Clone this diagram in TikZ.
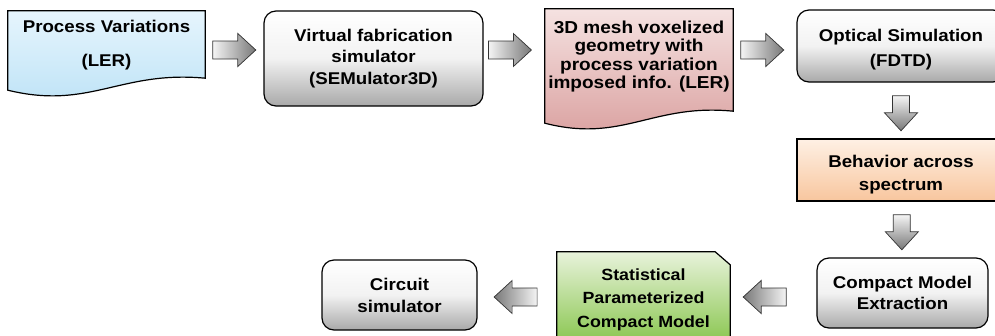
\documentclass[tikz,border=0pt]{standalone}
\usepackage{fontspec}
\setmainfont{Liberation Sans}[FakeStretch=1.1]
\usetikzlibrary{calc}
\pgfdeclarelayer{background}
\pgfsetlayers{background,main}

\definecolor{pvtop}{HTML}{E6F5FD}
\definecolor{pvbot}{HTML}{BCE2F6}
\definecolor{meshtop}{HTML}{F5E2E1}
\definecolor{meshbot}{HTML}{D99E9D}
\definecolor{behtop}{HTML}{FEF0E4}
\definecolor{behbot}{HTML}{F8C69E}
\definecolor{scmtop}{HTML}{E8F3DB}
\definecolor{scmbot}{HTML}{86C44A}
\definecolor{graymid}{HTML}{F2F2F2}
\definecolor{graybot}{HTML}{A9A9A9}
\definecolor{arrlight}{HTML}{F4F4F4}
\definecolor{arrdark}{HTML}{787878}

% block arrows, each centred on the given coordinate
\newcommand\rightblock[1]{%
  \path[blockarr, left color=arrlight, right color=arrdark]
    (#1) ++(-21.5,-9) -- ++(25,0) -- ++(0,-7.5) -- ++(18,16.5)
    -- ++(-18,16.5) -- ++(0,-7.5) -- ++(-25,0) -- cycle;}
\newcommand\leftblock[1]{%
  \path[blockarr, left color=arrdark, right color=arrlight]
    (#1) ++(21.5,-9) -- ++(-25,0) -- ++(0,-7.5) -- ++(-18,16.5)
    -- ++(18,16.5) -- ++(0,-7.5) -- ++(25,0) -- cycle;}
\newcommand\downblock[1]{%
  \path[blockarr, top color=arrlight, bottom color=arrdark]
    (#1) ++(-8.5,-17.5) -- ++(17,0) -- ++(0,17) -- ++(8,0)
    -- ++(-16.5,18) -- ++(-16.5,-18) -- ++(8,0) -- cycle;}

\begin{document}
\begin{tikzpicture}[x=1pt, y=-1pt,
  txt/.style={align=center, inner sep=0pt, font=\bfseries},
  boxline/.style={draw=black, line width=1.2pt},
  graybox/.style={boxline, rounded corners=12pt, top color=white,
    bottom color=graybot, middle color=graymid},
  blockarr/.style={draw=black!80, line width=0.7pt, line join=miter},
]
\useasboundingbox (0,0) rectangle (995,335);

\coordinate (toprow) at (0,50);
\coordinate (botrow) at (0,297);

% ---- top row ----
\node[txt, minimum width=197pt, minimum height=68pt,
  font=\bfseries\fontsize{17}{34}\selectfont] (pv) at (106.5,45)
  {Process Variations\\(LER)};
\node[txt, graybox, minimum width=219pt, minimum height=95pt,
  font=\bfseries\fontsize{17}{21.5}\selectfont] (vf) at (373.5,58.5)
  {Virtual fabrication\\simulator\\(SEMulator3D)};
\node[txt, minimum width=188pt, minimum height=93pt,
  font=\bfseries\fontsize{17.3}{18.3}\selectfont] (mesh) at (639,56.5)
  {3D mesh voxelized\\geometry with\\process variation\\imposed info. (LER)};
\node[graybox, minimum width=208pt, minimum height=72pt,
  label={[txt, yshift=-4pt, font=\bfseries\fontsize{17}{25}\selectfont]
    center:{Optical Simulation\\(FDTD)}}] (opt) at (901,46) {};

% ---- right column ----
\node[boxline, top color=behtop, bottom color=behbot,
  minimum width=208pt, minimum height=62pt,
  label={[txt, yshift=-4.5pt, font=\bfseries\fontsize{17}{23}\selectfont]
    center:{Behavior across\\spectrum}}] (beh) at (901,170) {};
\node[txt, graybox, minimum width=171pt, minimum height=70pt,
  font=\bfseries\fontsize{17}{21.7}\selectfont] (cme) at (902.5,293)
  {Compact Model\\Extraction};

% ---- bottom row ----
\node[txt, minimum width=173pt, minimum height=93pt,
  font=\bfseries\fontsize{16.2}{23.5}\selectfont] (scm) at (643.5,299.5)
  {Statistical\\Parameterized\\Compact Model};
\node[txt, graybox, minimum width=155pt, minimum height=70pt,
  font=\bfseries\fontsize{17}{22}\selectfont] (cs) at (399.5,295)
  {Circuit\\simulator};

% ---- outlined shapes behind the text ----
\begin{pgfonlayer}{background}
  % document shape with a wavy lower edge
  \path[boxline, top color=pvtop, bottom color=pvbot]
    (pv.north west) -- (pv.north east) -- ($(pv.south east)+(0,-1)$)
    .. controls ($(pv.south east)+(-85,-9)$) and ($(pv.south west)+(82,31)$)
    .. ($(pv.south west)+(0,11)$) -- cycle;
  \path[boxline, top color=meshtop, bottom color=meshbot]
    ($(mesh.north west)+(0,-1)$) -- ($(mesh.north east)+(0,-1)$)
    -- ($(mesh.south east)+(0,8)$)
    .. controls ($(mesh.south east)+(-81,0)$) and ($(mesh.south west)+(78,40)$)
    .. ($(mesh.south west)+(0,20)$) -- cycle;
  % box with a cut top-right corner
  \path[boxline, top color=scmtop, bottom color=scmbot]
    (scm.south west) -- ($(scm.north west)+(0,-1)$) -- ($(scm.north east)+(-15,-1)$)
    -- ($(scm.north east)+(0,12)$) -- (scm.south east) -- cycle;
\end{pgfonlayer}

% ---- block arrows between the steps ----
\coordinate (g1) at ($(pv.east)!0.5!(vf.west)$);
\coordinate (g2) at ($(vf.east)!0.43!(mesh.west)$);
\coordinate (g3) at ($(mesh.east)!0.46!(opt.west)$);
\coordinate (g4) at ($(opt.south)!0.55!(beh.north)$);
\coordinate (g5) at ($(beh.south)!0.55!(cme.north)$);
\coordinate (g6) at ($(cme.west)!0.6!(scm.east)$);
\coordinate (g7) at ($(scm.west)!0.52!(cs.east)$);

\rightblock{g1 |- toprow}
\rightblock{g2 |- toprow}
\rightblock{g3 |- toprow}
\downblock{g4}
\downblock{g5}
\leftblock{g6 |- botrow}
\leftblock{g7 |- botrow}
\end{tikzpicture}
\end{document}
